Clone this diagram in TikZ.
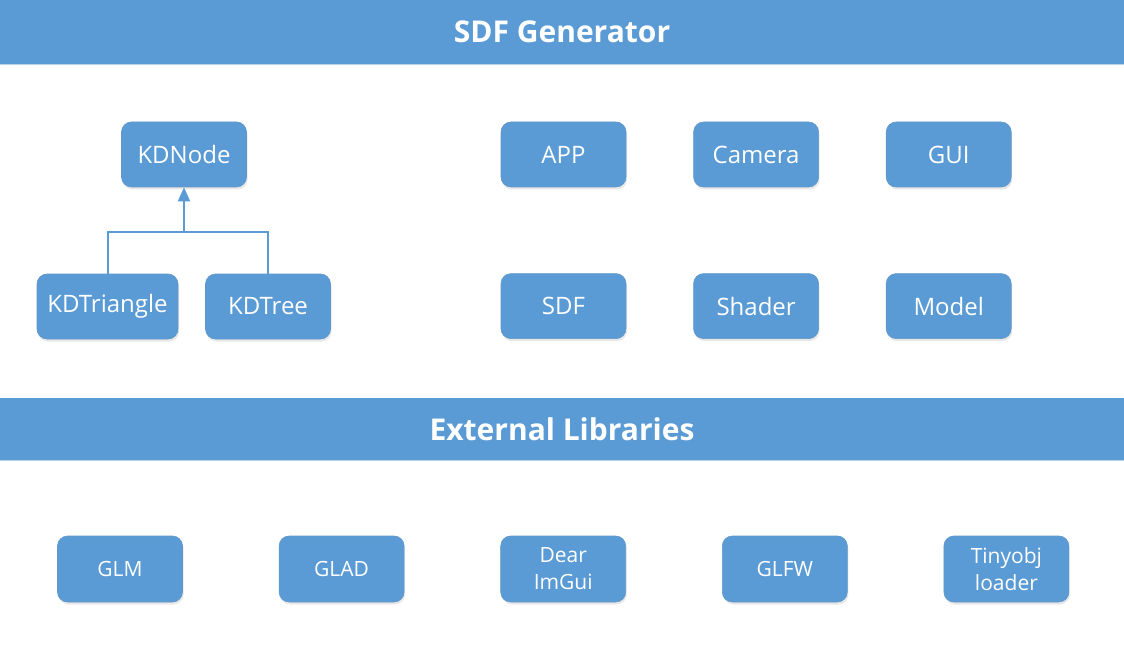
\documentclass[tikz,border=0pt]{standalone}
\usepackage{fontspec}
\setmainfont{Open Sans}
\usepackage{tikz}
\usetikzlibrary{arrows.meta, positioning, calc, shadows}
\definecolor{sdfblue}{RGB}{91,155,213}

\tikzset{
  bar/.style={fill=sdfblue, draw=none},
  bartitle/.style={text=white, font=\bfseries\fontsize{30}{35}\selectfont},
  block/.style={fill=sdfblue, draw=sdfblue!85!gray, line width=0.6pt, rounded corners=10pt,
    minimum width=125pt, minimum height=65pt, inner sep=2pt, text=white, align=center,
    font=\fontsize{24}{28}\selectfont,
    drop shadow={opacity=0.18, shadow xshift=1pt, shadow yshift=-2.5pt}},
  libblock/.style={block, minimum height=66pt, font=\fontsize{21}{27}\selectfont},
  link/.style={draw=sdfblue, line width=2pt}
}

\begin{document}
\begin{tikzpicture}[x=1pt, y=-1pt, node distance=86pt and 67pt]
\useasboundingbox (0,0) rectangle (1124,671);
% header bars
\fill[bar] (0,0) rectangle (1124,65);
\draw[sdfblue!45, line width=1pt] (0,65) -- (1124,65);
\node[bartitle] (gentitle) at (562,32) {SDF Generator};
\fill[bar] (0,398) rectangle (1124,460);
\draw[sdfblue!45, line width=1pt] (0,460) -- (1124,460);
\node[bartitle] (libtitle) at (562,429) {External Libraries};

% kd tree classes
\node[block] (kdnode) at (184,154.5) {KDNode};
\node[block, minimum width=141pt] (kdtri) at (107.5,306.5) {KDTriangle};
\node[block] (kdtree) at (268,306.5) {KDTree};
\coordinate (fork) at ($(kdnode.south)+(0,45)$);
\draw[link] (kdtri.north) |- (fork) -| (kdtree.north);
\draw[link, -{Triangle[length=14pt, width=12pt]}] (fork) -- (kdnode.south);

% application classes
\node[block] (app) at (563.5,154.5) {APP};
\node[block, right=of app] (camera) {Camera};
\node[block, right=of camera] (gui) {GUI};
\node[block, below=of app] (sdf) {SDF};
\node[block, below=of camera] (shader) {Shader};
\node[block, below=of gui] (model) {Model};

% external libraries
\node[libblock] (glm) at (120,569) {GLM};
\node[libblock, right=96pt of glm] (glad) {GLAD};
\node[libblock, right=96pt of glad] (imgui) {Dear\\ImGui};
\node[libblock, right=96pt of imgui] (glfw) {GLFW};
\node[libblock, right=96pt of glfw] (tinyobj) {Tinyobj\\loader};
\end{tikzpicture}
\end{document}
